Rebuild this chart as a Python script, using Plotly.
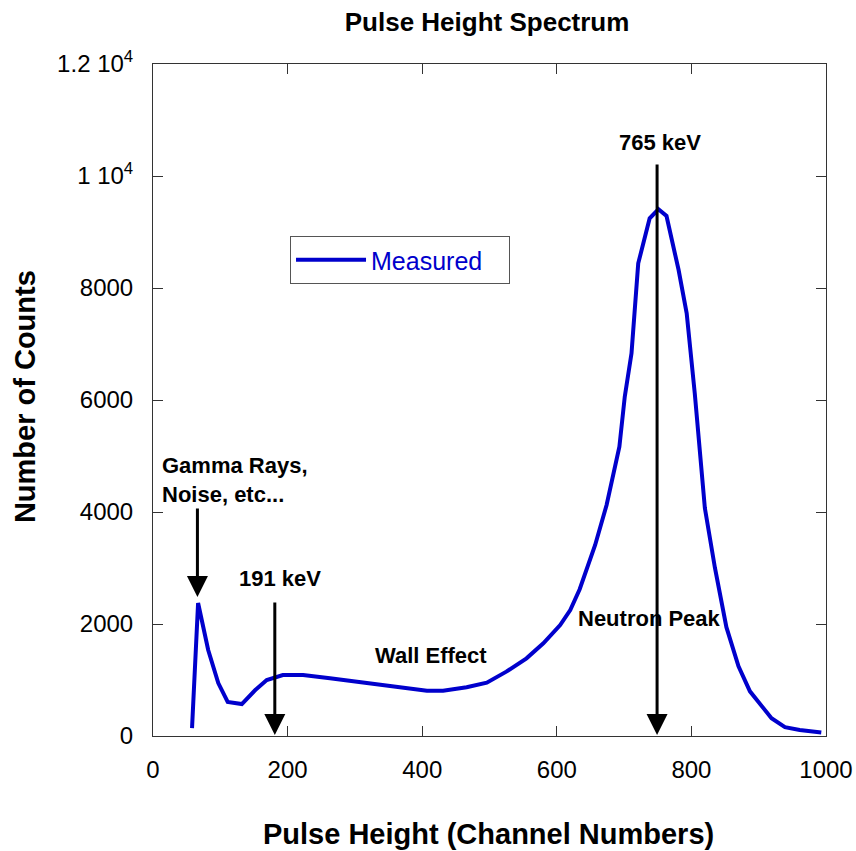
import plotly.graph_objects as go

# Data
channel = [58, 67, 82, 97, 111, 132, 152, 169, 193, 223, 263, 300, 337, 370, 407, 431,
           466, 496, 525, 555, 580, 605, 620, 634, 649, 657, 674, 683, 693, 701, 711,
           721, 738, 751, 763, 781, 793, 805, 820, 835, 852, 870, 887, 919, 939, 961, 993]
counts = [140, 2375, 1536, 946, 607, 571, 821, 1000, 1089, 1089, 1030, 970, 911, 860, 809, 809,
          870, 952, 1149, 1387, 1655, 1982, 2250, 2620, 3143, 3411, 4125, 4631, 5167, 6060, 6833,
          8440, 9244, 9405, 9286, 8321, 7548, 6119, 4070, 3000, 1944, 1243, 797, 319, 159, 108, 64]

x_ticks = [0, 200, 400, 600, 800, 1000]
x_ticklabels = ["0", "200", "400", "600", "800", "1000"]
y_ticks = [0, 2000, 4000, 6000, 8000, 10000, 12000]
y_ticklabels = ["0", "2000", "4000", "6000", "8000", "1 10<sup>4</sup>", "1.2 10<sup>4</sup>"]

# Arrows: (channel, tail count, tip count)
arrows = [(66, 4090, 2480), (181, 2410, 20), (749, 10230, 20)]
labels = [
    ("Gamma Rays,<br>Noise, etc...", 10, 4571, "left"),
    ("191 keV", 189, 2821, "center"),
    ("765 keV", 753, 10607, "center"),
    ("Wall Effect", 413, 1446, "center"),
    ("Neutron Peak", 738, 2107, "center"),
]

FONT = "Arial, Liberation Sans, sans-serif"

fig = go.Figure()
fig.add_trace(go.Scatter(x=channel, y=counts, mode="lines",
                         name="Measured\u00a0\u00a0\u00a0",
                         line=dict(color="#0000cc", width=4)))

annotations = []
for cx, tail, tip in arrows:
    annotations.append(dict(x=cx, y=tip, ax=cx, ay=tail, xref="x", yref="y",
                            axref="x", ayref="y", showarrow=True, arrowhead=2,
                            arrowsize=1.4, arrowwidth=3, arrowcolor="black",
                            standoff=0, text=""))
for txt, lx, ly, al in labels:
    annotations.append(dict(x=lx, y=ly, xref="x", yref="y", text="<b>%s</b>" % txt,
                            showarrow=False, align=al,
                            xanchor="left" if al == "left" else "center",
                            yanchor="middle",
                            font=dict(family=FONT, size=22, color="black")))
annotations.append(dict(x=0.498, y=-0.146, xref="paper", yref="paper",
                        text="<b>Pulse Height (Channel Numbers)</b>", showarrow=False,
                        xanchor="center", yanchor="middle",
                        font=dict(family=FONT, size=29, color="black")))
annotations.append(dict(x=-0.190, y=0.5045, xref="paper", yref="paper",
                        text="<b>Number of Counts</b>", showarrow=False, textangle=-90,
                        xanchor="center", yanchor="middle",
                        font=dict(family=FONT, size=29, color="black")))

axis_common = dict(showline=True, linecolor="#333333", linewidth=1, mirror="ticks",
                   ticks="inside", ticklen=10, tickwidth=1, tickcolor="#333333",
                   showgrid=False, zeroline=False, automargin=False,
                   tickfont=dict(family=FONT, size=24, color="black"))

W, H = 856, 851
fig.update_layout(
    width=W, height=H,
    margin=dict(l=153, r=30, t=64, b=115, autoexpand=False),
    paper_bgcolor="white", plot_bgcolor="white",
    title=dict(text="<b>Pulse Height Spectrum</b>", x=0.569, xanchor="center",
               y=1 - 22 / H, yanchor="middle", yref="container",
               font=dict(family=FONT, size=26, color="black")),
    xaxis=dict(range=[0, 1000], tickvals=x_ticks, ticktext=x_ticklabels,
               ticklabelstandoff=12, **axis_common),
    yaxis=dict(range=[0, 12000], tickvals=y_ticks, ticktext=y_ticklabels,
               ticklabelstandoff=14, **axis_common),
    showlegend=True,
    legend=dict(x=0.2036, y=0.744, xanchor="left", yanchor="top",
                bgcolor="white", bordercolor="#555555", borderwidth=1,
                itemwidth=70, tracegroupgap=0,
                font=dict(family=FONT, size=25, color="#0000cc")),
    annotations=annotations,
)

fig.write_html("out.html", config={"displayModeBar": False},
               post_script="document.body.style.margin='0';")
